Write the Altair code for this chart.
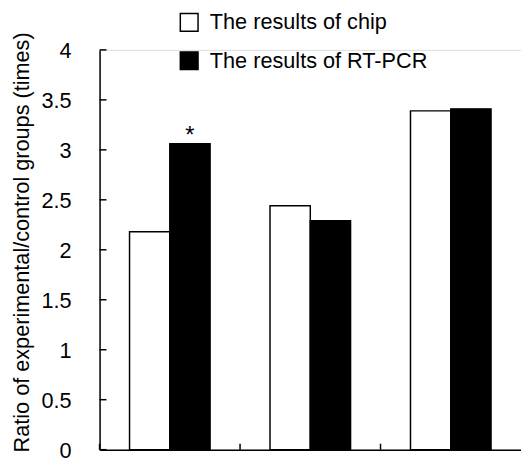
import altair as alt
import pandas as pd

groups = ["Group 1", "Group 2", "Group 3"]
series = ["The results of chip", "The results of RT-PCR"]
chip_values = [2.18, 2.44, 3.39]
rtpcr_values = [3.06, 2.29, 3.41]
y_ticks = [0, 0.5, 1, 1.5, 2, 2.5, 3, 3.5, 4]
star_labels = ["*", "", ""]

rows = []
for g, c, r, s in zip(groups, chip_values, rtpcr_values, star_labels):
    rows.append({"group": g, "series": series[0], "value": c, "star": ""})
    rows.append({"group": g, "series": series[1], "value": r, "star": s})
df = pd.DataFrame(rows)
tick_df = pd.DataFrame({"value": y_ticks})
grp_df = pd.DataFrame({"group": groups})

FONT = "Liberation Sans"
YTITLE = "Ratio of experimental/control groups (times)"

x_scale = alt.Scale(domain=groups, paddingInner=0, paddingOuter=0)
y_scale = alt.Scale(domain=[0, 4], nice=False)
off_scale = alt.Scale(paddingOuter=0.744, paddingInner=0)

bars = alt.Chart(df).mark_bar(stroke="black", strokeWidth=1.5).encode(
    x=alt.X("group:N", scale=x_scale, title=None),
    xOffset=alt.XOffset("series:N", sort=series, scale=off_scale),
    y=alt.Y("value:Q", scale=y_scale, title=YTITLE),
    fill=alt.Fill("series:N", sort=series,
                  scale=alt.Scale(domain=series, range=["white", "black"]),
                  legend=alt.Legend(title=None, orient="none", legendX=80, legendY=-39,
                                    symbolType="square", symbolSize=324,
                                    symbolStrokeColor="black", symbolStrokeWidth=1.5,
                                    labelFont=FONT, labelFontSize=22, labelColor="black",
                                    labelOffset=10, rowPadding=15, padding=0, labelLimit=0)),
)

stars = alt.Chart(df).mark_text(font=FONT, fontSize=24, color="black", baseline="top", dy=-20).encode(
    x=alt.X("group:N", scale=x_scale, title=None),
    xOffset=alt.XOffset("series:N", sort=series, scale=off_scale),
    y=alt.Y("value:Q", scale=y_scale, title=YTITLE),
    text="star:N",
)

y_tick_marks = alt.Chart(tick_df).mark_rule(color="black", strokeWidth=1.5).encode(
    y=alt.Y("value:Q", scale=y_scale, title=YTITLE),
    x=alt.value(0),
    x2=alt.value(7),
)

x_tick_marks = alt.Chart(grp_df).mark_rule(color="black", strokeWidth=1.5).encode(
    x=alt.X("group:N", scale=x_scale, bandPosition=0, title=None),
    y=alt.value(400),
    y2=alt.value(406),
)

chart = alt.layer(bars, stars, y_tick_marks, x_tick_marks).properties(
    width=428,
    height=406,
    padding={"left": 93, "top": 39, "right": 0, "bottom": 11},
    autosize=alt.AutoSizeParams(type="none"),
).configure_view(stroke=None).configure(background="white").configure_axisX(
    labels=False, ticks=False, grid=False, domainColor="black", domainWidth=1.5,
).configure_axisY(
    values=y_ticks, format="~g", ticks=False, grid=False,
    domainColor="black", domainWidth=1.5,
    labelFont=FONT, labelFontSize=22, labelColor="black",
    labelPadding=29, labelOffset=1,
    titleFont=FONT, titleFontSize=22, titleFontWeight="normal",
    titleColor="black", titleAngle=-90, titleX=-72, titleY=195,
    titleAlign="center", titleBaseline="alphabetic",
)

chart.save("out.html", embed_options={"renderer": "svg", "actions": False})
